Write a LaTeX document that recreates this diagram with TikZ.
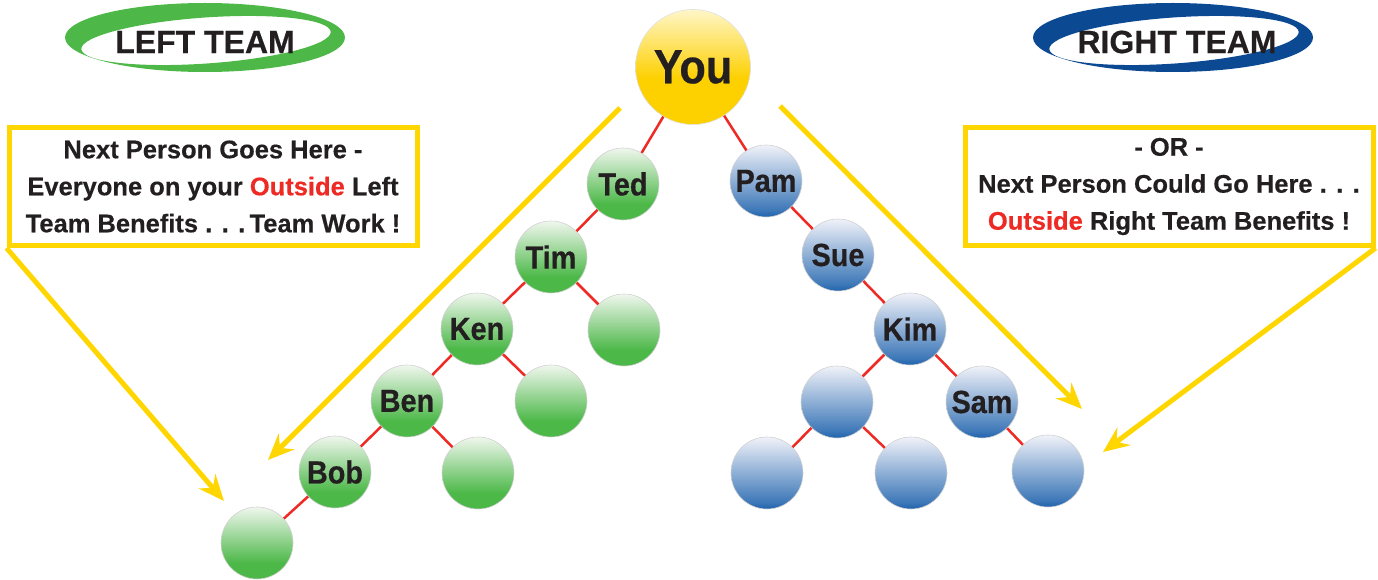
\documentclass[tikz,border=0pt]{standalone}
\usepackage{fontspec}
\usetikzlibrary{arrows.meta}
\newfontfamily\cond[FakeStretch=0.9,BoldFeatures={FakeBold=0.5}]{Liberation Sans}
\newfontfamily\wide[BoldFeatures={FakeBold=0.4}]{Liberation Sans}
\definecolor{gdark}{HTML}{4CB848}
\definecolor{glight}{HTML}{F0F7EE}
\definecolor{bdark}{HTML}{1F63AD}
\definecolor{blight}{HTML}{F0F2F9}
\definecolor{ydark}{HTML}{FDD000}
\definecolor{ylight}{HTML}{FFF6C8}
\definecolor{ayellow}{HTML}{FFD600}
\definecolor{tred}{HTML}{EE2A24}
\definecolor{ink}{HTML}{231F20}
\definecolor{egreen}{HTML}{4DB848}
\definecolor{eblue}{HTML}{0B4A93}
\pgfdeclareverticalshading{greenball}{100bp}{color(0bp)=(gdark); color(25bp)=(gdark); color(36bp)=(gdark); color(75bp)=(glight); color(100bp)=(glight)}
\pgfdeclareverticalshading{blueball}{100bp}{color(0bp)=(bdark); color(25bp)=(bdark); color(30bp)=(bdark!85!blight); color(75bp)=(blight); color(100bp)=(blight)}
\pgfdeclareverticalshading{yellowball}{100bp}{color(0bp)=(ydark); color(25bp)=(ydark); color(45bp)=(ydark); color(75bp)=(ylight); color(100bp)=(ylight)}
\tikzset{
  ball/.style={circle, minimum size=72pt, inner sep=0pt, draw=black!18, line width=0.6pt,
    text=ink, font=\cond\bfseries\fontsize{32}{34}\selectfont},
  gball/.style={ball, shading=greenball},
  bball/.style={ball, shading=blueball},
  link/.style={draw=tred, line width=2.5pt},
  yarrow/.style={draw=ayellow, line width=5pt, -{Stealth[length=26pt,width=22pt,inset=9pt]}},
  infobox/.style={draw=ayellow, line width=5pt, minimum width=408pt, minimum height=118pt,
    inner sep=0pt, align=center, text=ink, font=\wide\bfseries\fontsize{25.5}{37}\selectfont},
  teamlabel/.style={text=ink, font=\wide\bfseries\fontsize{32}{36}\selectfont}
}
\begin{document}
\begin{tikzpicture}[x=1pt,y=-1pt]
\useasboundingbox (0,0) rectangle (1378,580);
% team ellipses
\fill[egreen, even odd rule] (205,37.5) ellipse [x radius=140, y radius=34.5] (206,40.5) ellipse [x radius=125, y radius=23, rotate=4];
\node[teamlabel] (lteam) at (205,42) {LEFT TEAM};
\fill[eblue, even odd rule] (1173,37.5) ellipse [x radius=140, y radius=34.5] (1174,40.5) ellipse [x radius=125, y radius=23, rotate=4];
\node[teamlabel] (rteam) at (1177,42) {RIGHT TEAM};
% you
\node[ball, minimum size=115pt, shading=yellowball, draw=black!12, font=\cond\bfseries\fontsize{48}{50}\selectfont] (you) at (693,67) {You};
% left tree
\node[gball] (ted) at (623,184) {Ted};
\node[gball] (tim) at (551,257) {Tim};
\node[gball] (timr) at (624,330) {};
\node[gball] (ken) at (477,329) {Ken};
\node[gball] (kenr) at (551,401) {};
\node[gball] (ben) at (407,401) {Ben};
\node[gball] (benr) at (478,473) {};
\node[gball] (bob) at (335,472) {Bob};
\node[gball] (bobl) at (257,543) {};
% right tree
\node[bball] (pam) at (766,181) {Pam};
\node[bball] (sue) at (838,255) {Sue};
\node[bball] (kim) at (910,329) {Kim};
\node[bball] (kiml) at (837,402) {};
\node[bball] (sam) at (982,402) {Sam};
\node[bball] (kimll) at (767,473) {};
\node[bball] (kimlr) at (911,473) {};
\node[bball] (samr) at (1048,471) {};
% links
\draw[link] (you) -- (ted);
\draw[link] (you) -- (pam);
\draw[link] (ted) -- (tim);
\draw[link] (tim) -- (ken);
\draw[link] (tim) -- (timr);
\draw[link] (ken) -- (ben);
\draw[link] (ken) -- (kenr);
\draw[link] (ben) -- (bob);
\draw[link] (ben) -- (benr);
\draw[link] (bob) -- (bobl);
\draw[link] (pam) -- (sue);
\draw[link] (sue) -- (kim);
\draw[link] (kim) -- (kiml);
\draw[link] (kim) -- (sam);
\draw[link] (kiml) -- (kimll);
\draw[link] (kiml) -- (kimlr);
\draw[link] (sam) -- (samr);
% boxes
\node[infobox] (lbox) at (213,186.5) {Next Person Goes Here -\\Everyone on your \textcolor{tred}{Outside} Left\\Team Benefits . . .\,Team Work !};
\node[infobox] (rbox) at (1169,186.5) {- OR -\\Next Person Could Go Here . . .\\\textcolor{tred}{Outside} Right Team Benefits !};
% yellow arrows
\coordinate (a1s) at (620,108);
\coordinate (a1e) at (268,460);
\coordinate (a2s) at (780,106);
\coordinate (a2e) at (1082,409);
\coordinate (a3e) at (224,501);
\coordinate (a4e) at (1103,452);
\draw[yarrow] (a1s) -- (a1e);
\draw[yarrow] (a2s) -- (a2e);
\draw[yarrow] (lbox.south west) -- (a3e);
\draw[yarrow] (rbox.south east) -- (a4e);
\end{tikzpicture}
\end{document}
